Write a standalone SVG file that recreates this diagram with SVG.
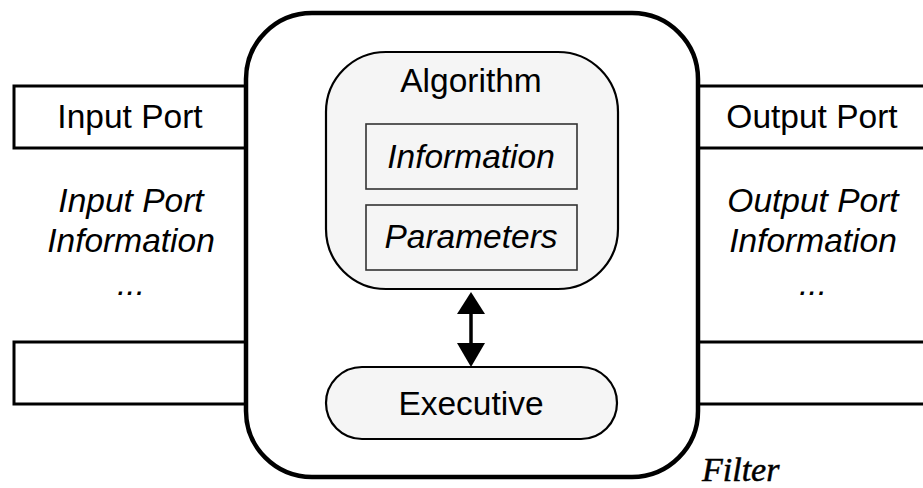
<svg xmlns="http://www.w3.org/2000/svg" width="923" height="488" viewBox="0 0 923 488">
<defs>
<style>
.t{font-family:"Liberation Sans",Arial,sans-serif;font-size:33.5px;fill:#000;text-anchor:middle}
.i{font-style:italic}
.port{fill:#fff;stroke:#000;stroke-width:3}
.inner{fill:#f5f5f5;stroke:#000;stroke-width:2.2}
.box{fill:#f5f5f5;stroke:#333;stroke-width:1.6}
.head{fill:#000}
</style>
</defs>
<g id="input-port"><rect class="port" x="14" y="86" width="232" height="62"/><text class="t" x="130" y="128">Input Port</text></g>
<g id="input-port-2"><rect class="port" x="14" y="342" width="232" height="62"/></g>
<g id="output-port"><rect class="port" x="698" y="86" width="240" height="62"/><text class="t" x="812" y="128">Output Port</text></g>
<g id="output-port-2"><rect class="port" x="698" y="342" width="240" height="62"/></g>
<g id="input-info"><text class="t i" x="131" y="212">Input Port</text><text class="t i" x="131" y="252">Information</text><text class="t i" x="131" y="295">...</text></g>
<g id="output-info"><text class="t i" x="813" y="212">Output Port</text><text class="t i" x="813" y="252">Information</text><text class="t i" x="813" y="295">...</text></g>
<g id="filter"><rect x="246" y="13" width="452" height="464" rx="66" ry="66" fill="#fff" stroke="#000" stroke-width="4.5"/></g>
<g id="algorithm"><rect class="inner" x="326" y="52" width="292" height="237" rx="60" ry="60"/><text class="t" x="471" y="92">Algorithm</text></g>
<g id="information"><rect class="box" x="366" y="124" width="211" height="65"/><text class="t i" x="471" y="168">Information</text></g>
<g id="parameters"><rect class="box" x="366" y="205" width="211" height="65"/><text class="t i" x="471" y="248">Parameters</text></g>
<g id="executive"><rect class="inner" x="326" y="367" width="291" height="72" rx="36" ry="36"/><text class="t" x="471" y="415">Executive</text></g>
<g id="connectors"><line x1="471" y1="310" x2="471" y2="346" stroke="#000" stroke-width="3.5"/><path class="head" d="M471,292 L485,314 L457,314 Z"/><path class="head" d="M457,343 L485,343 L471,367 Z"/></g>
<g id="filter-label"><text x="702" y="481" font-family="'Liberation Serif','Times New Roman',serif" font-style="italic" font-size="34" fill="#000" stroke="#000" stroke-width="0.5">Filter</text></g>
</svg>
